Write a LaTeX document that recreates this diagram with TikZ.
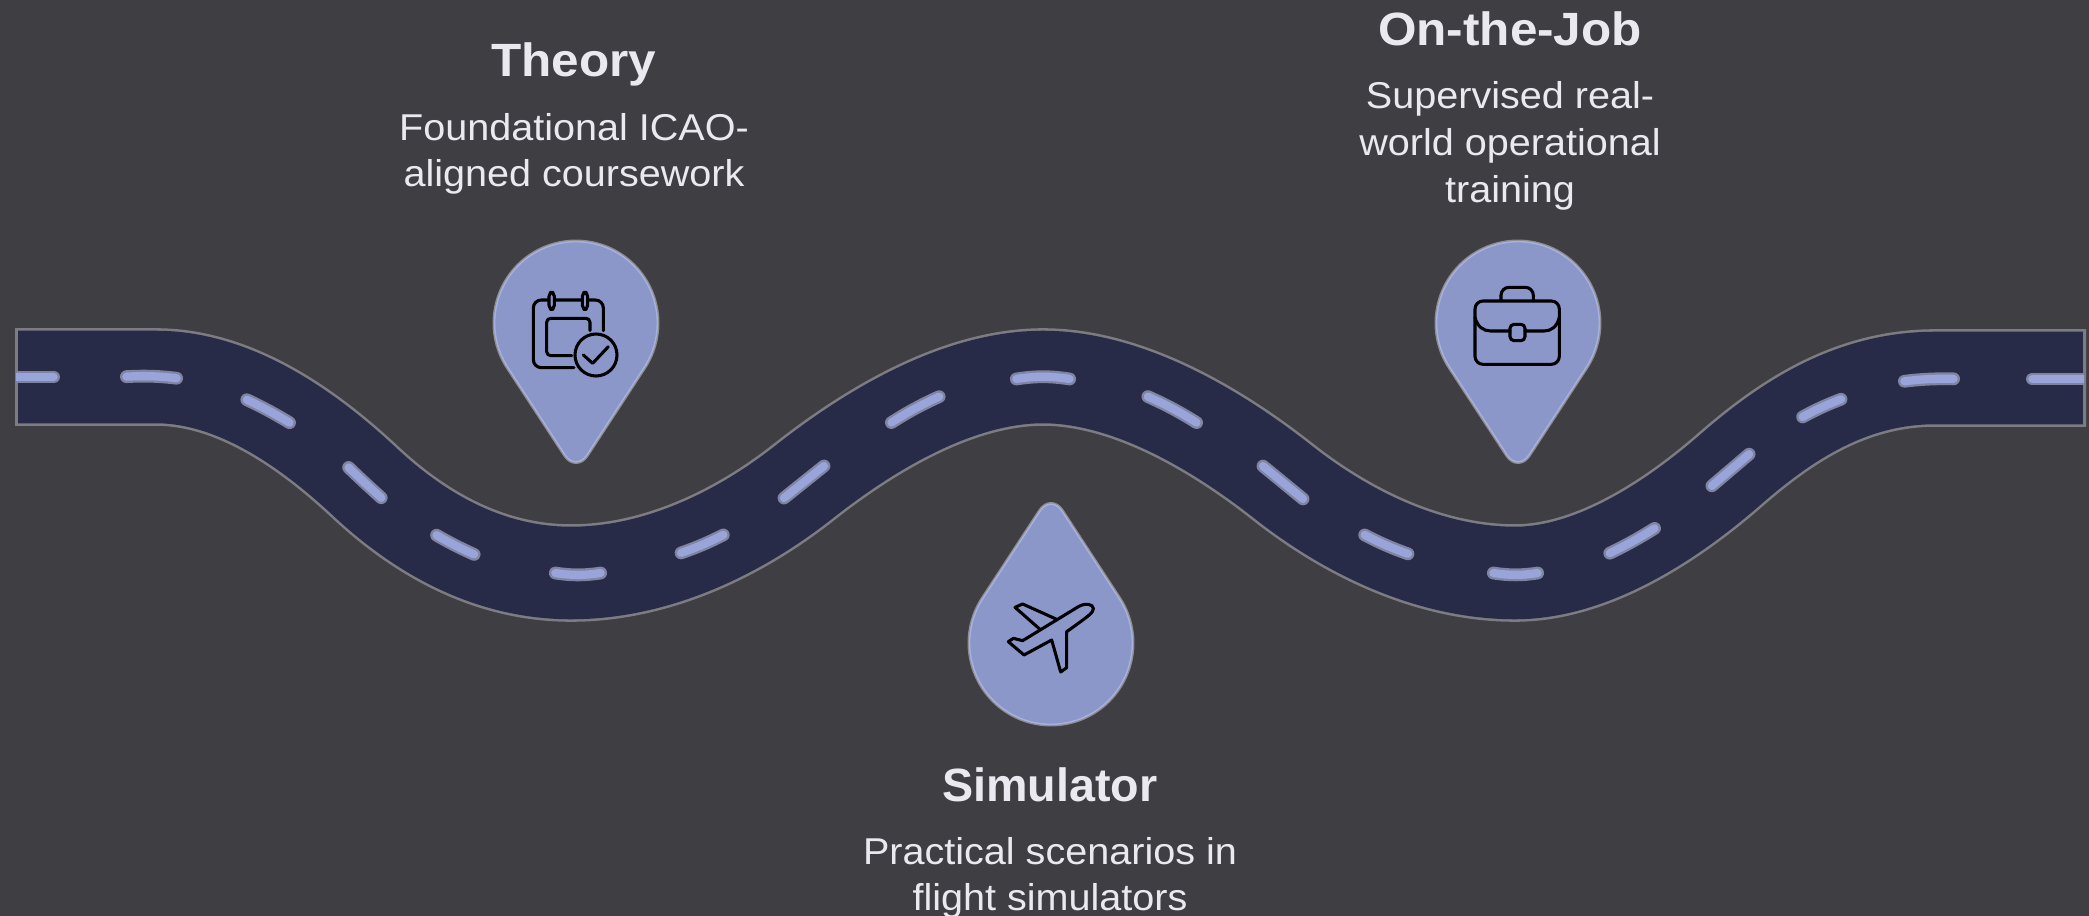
\documentclass[tikz,border=0pt]{standalone}
\usepackage{fontspec}
\setmainfont{Liberation Sans}[FakeStretch=1.06]
\definecolor{bgc}{HTML}{3F3E43}
\definecolor{roadc}{HTML}{272B47}
\definecolor{edgec}{HTML}{7C7C82}
\definecolor{dashc}{HTML}{98A4DA}
\definecolor{dashedge}{HTML}{7F84A0}
\definecolor{pinc}{HTML}{8B97C9}
\definecolor{pinedge}{HTML}{8E8E90}
\definecolor{pinlight}{HTML}{A6B1E0}
\definecolor{textc}{HTML}{E9E9EF}
\tikzset{
  titletext/.style={font=\fontsize{35}{42}\selectfont\bfseries,text=textc,inner sep=0pt},
  bodytext/.style={font=\fontsize{28}{35}\selectfont,text=textc,align=center,inner sep=0pt},
  pinouter/.style={draw=pinedge,line width=3.2pt,line join=round},
  pininner/.style={fill=pinc,draw=pinlight,line width=1.1pt,line join=round},
  iconline/.style={draw=black,line width=2.3pt,line cap=round,line join=round},
  roadcentre/.style={line cap=butt,line join=round},
}
\newcommand{\roadpath}{(15,377) -- (156,377)
  .. controls (231,377) and (303,424) .. (365,482)
  .. controls (427,540) and (496,573) .. (571,573)
  .. controls (656,573) and (738,534) .. (804,482)
  .. controls (870,430) and (958,377) .. (1043,377)
  .. controls (1128,377) and (1217,430) .. (1283,482)
  .. controls (1349,534) and (1431,573) .. (1515,573)
  .. controls (1590,573) and (1668,524) .. (1730,470)
  .. controls (1785,422) and (1850,378) .. (1935,378)
  -- (2086,378)}
\newcommand{\pinpath}{(-69.3,45.7) arc[start angle=146.6,end angle=393.4,radius=83]
  -- (11,134.8) .. controls (4.95,144) and (-4.95,144) .. (-11,134.8) -- cycle}
\begin{document}
\begin{tikzpicture}[x=0.75pt,y=-0.75pt]
\useasboundingbox (0,0) rectangle (2089,916);
\fill[bgc] (0,0) rectangle (2089,916);
% road
\draw[edgec,line width=73.2pt,roadcentre] \roadpath;
\draw[roadc,line width=69.4pt,roadcentre,shorten <=2.4pt,shorten >=2.4pt] \roadpath;
% lane dashes
\begin{scope}
\clip (16,300) rectangle (2084,650);
\foreach \ax/\ay/\bx/\by/\bd in {
  0/377/60/377/0, 120/377/183/379/-5, 241/397/295/426/-3, 344/463/386/502/1,
  431/532/480/557/3, 549/572/607/572/9, 675/555/729/532/4, 779/502/829/462/0,
  886/426/945/394/-4, 1010/380/1076/380/-9, 1142/394/1202/426/-4, 1258/462/1308/503/0,
  1359/532/1414/556/4, 1487/572/1544/572/9, 1604/556/1660/525/3, 1707/490/1754/450/0,
  1797/420/1847/397/-4, 1898/382/1960/379/-4, 2026/379/2100/379/0}{
  \draw[dashedge,line width=9.6pt,line cap=round,shorten <=4.8pt,shorten >=4.8pt]
    (\ax,\ay) to[bend right=\bd] (\bx,\by);
  \draw[dashc,line width=6.2pt,line cap=round,shorten <=4.8pt,shorten >=4.8pt]
    (\ax,\ay) to[bend right=\bd] (\bx,\by);
}
\end{scope}
% pins
\begin{scope}[shift={(576,323)},scale=0.98]
  \draw[pinouter] \pinpath; \path[pininner] \pinpath;
\end{scope}
\begin{scope}[shift={(1518,323)},scale=0.98]
  \draw[pinouter] \pinpath; \path[pininner] \pinpath;
\end{scope}
\begin{scope}[shift={(1051,643)},yscale=-1,scale=0.98]
  \draw[pinouter] \pinpath; \path[pininner] \pinpath;
\end{scope}
% calendar icon
\begin{scope}[shift={(470,230)},x=0.25pt,y=-0.25pt]
  \draw[iconline,rounded corners=6pt] (312,413) -- (190,413) -- (190,210) -- (400,210) -- (400,302);
  \draw[iconline,rounded corners=3pt] (305,377) -- (230,377) -- (230,265) -- (360,265) -- (360,302);
  \draw[iconline,fill=pinc,rounded corners=3pt] (237,187) rectangle (253,238);
  \draw[iconline,fill=pinc,rounded corners=3pt] (337,187) rectangle (353,238);
  \draw[iconline] (378,375) circle[radius=63];
  \draw[iconline] (340,375) -- (368,400) -- (415,350);
\end{scope}
% aeroplane icon
\begin{scope}[shift={(950,490)},x=0.25pt,y=-0.25pt]
  \draw[iconline] (270,418) -- (195,352) -- (218,342) -- (318,387);
  \draw[iconline] (218,452) -- (385,350) .. controls (405,338) and (430,342) .. (430,355)
    .. controls (430,368) and (420,375) .. (350,425) -- (350,533) -- (332,546)
    -- (305,450) -- (222,495) -- (175,455) -- (190,445) -- cycle;
\end{scope}
% briefcase icon
\begin{scope}[shift={(1420,230)},x=0.25pt,y=-0.25pt]
  \draw[iconline,rounded corners=6pt] (165,213) rectangle (418,403);
  \draw[iconline,rounded corners=6pt] (243,213) -- (243,172) -- (340,172) -- (340,213);
  \draw[iconline] (165,262) .. controls (172,290) and (190,303) .. (212,303) -- (270,303);
  \draw[iconline] (315,303) -- (372,303) .. controls (394,303) and (411,290) .. (418,262);
  \draw[iconline,rounded corners=3pt] (270,283) rectangle (315,332);
\end{scope}
% texts
\node[titletext] (theoryTitle) at (574,64) {Theory};
\node[bodytext] (theoryBody) at (574,154) {Foundational ICAO-\\aligned coursework};
\node[titletext] (jobTitle) at (1510,29) {On-the-Job};
\node[bodytext] (jobBody) at (1510,146) {Supervised real-\\world operational\\training};
\node[titletext] (simTitle) at (1050,785) {\addfontfeature{FakeStretch=1.0}Simulator};
\node[bodytext] (simBody) at (1050,878) {Practical scenarios in\\flight simulators};
\end{tikzpicture}
\end{document}
